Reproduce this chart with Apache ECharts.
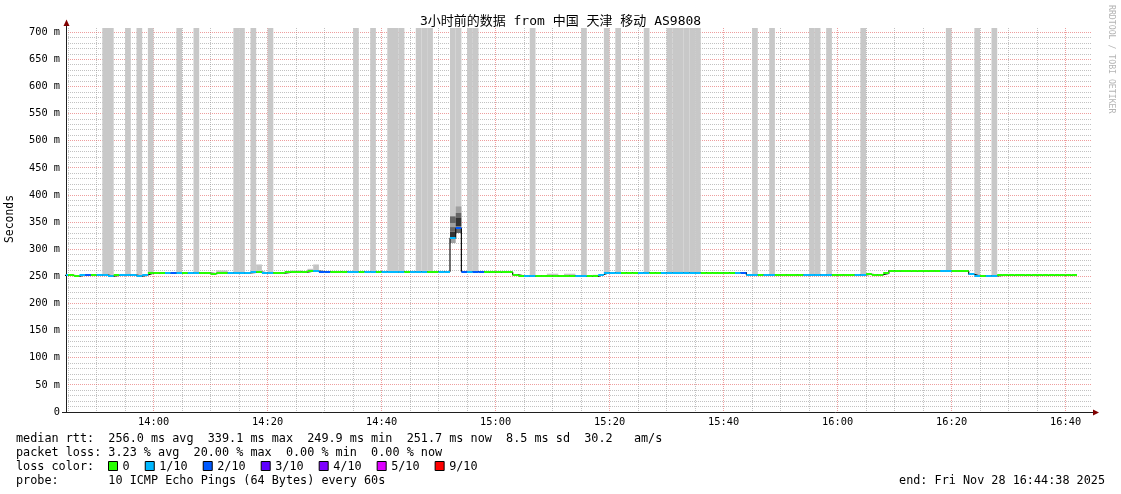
<!DOCTYPE html>
<html><head><meta charset="utf-8">
<script src="https://cdn.jsdelivr.net/npm/echarts@6/dist/echarts.min.js"></script>
<style>html,body{margin:0;padding:0;background:#fff}#c{width:1121px;height:494px}</style>
</head><body><div id="c"></div>
<script>
// ---------- DATA ----------
// minute offsets counted from 13:44 (bin k covers minute k .. k+1)
const baseClock = '13:44';
const viewStart = 0.633;   // 13:44:38
const viewEnd = 180.633;   // 16:44:38
const yMax = 708;
const xTickLabels = ['14:00','14:20','14:40','15:00','15:20','15:40','16:00','16:20','16:40'];
const yTickValues = [0,50,100,150,200,250,300,350,400,450,500,550,600,650,700];

// median RTT (ms) per minute
const medianRtt = [
 252,252,250.5,252.5,252.5,252.5,252.5,252.5,250.5,252,
 252.5,252.5,252.5,250.5,252.5,256,256,256,256,256.5,
 256,256,256.5,256.5,256,256,255,256.5,256.5,256.5,
 256.5,256,256.5,257.5,258,256.5,256.5,255.5,256,257.5,
 259,259,258,259.5,260,259,259,259,259,259,
 259,259,259,259,259,259,259,259,258,259,
 259,259,259,259,258,259,259,259,320.5,339.1,
 259,259,259,259,257.5,257.5,257.5,257.5,257.5,253,
 251,250.5,250.5,251,251,251,251,251,251,251,
 251,249.9,250,250,253.5,257,257,257,257,257,
 257,257,257,257,257,257,257,257,257,257,
 257,257,257,257,257,257,257,257,257,257,
 253,253,253,253,253,253,253,253,253,253,
 253,253,253,253,253,253,253,253,253,253,
 253,254,253,253,255.5,260.5,259.5,260.5,259.5,259.5,
 259.5,259.5,260,260,260,260,260,260,260,254,
 250.5,251,251,251,251.7,251.7,251.7,251.7,251.7,251.7,
 251.7,251.7,251.7,251.7,251.7,251.7,251.7,251.7
];
// lost pings out of 10 per minute
const lossCount = [
 1,0,0,1,2,0,1,1,1,0,
 1,1,1,1,1,0,0,0,1,2,
 1,0,1,1,0,0,0,0,0,1,
 1,1,1,1,0,1,1,0,0,0,
 0,0,0,0,1,2,2,0,0,0,
 1,1,0,1,1,0,1,1,1,1,
 0,1,1,1,0,0,1,1,1,2,
 2,1,2,2,0,0,0,0,0,0,
 0,1,1,0,0,0,0,0,0,0,
 1,1,0,0,1,1,1,1,0,0,
 0,1,1,0,0,1,1,1,1,1,
 1,1,0,0,0,0,0,0,1,2,
 1,1,0,1,1,0,0,0,0,0,
 1,1,1,1,1,0,0,0,0,1,
 1,0,0,0,0,0,0,0,0,0,
 0,0,0,0,1,1,0,0,0,1,
 1,0,1,1,0,0,0,0,0,0,
 0,0,0,0,0,0,0,0
];
// minute ranges where smoke reaches the top of the graph
const offScaleBins = [
 [7,9],[11,12],[13,14],[15,16],[20,21],[23,24],[30,32],[33,34],[36,37],
 [51,52],[54,55],[57,60],[62,65],[68,70],[71,73],[82,83],[91,92],[95,96],
 [97,98],[102,103],[106,112],[121,122],[124,125],[131,133],[134,135],
 [140,141],[155,156],[160,161],[163,164]
];
// smoke: [binStart, binEnd, low ms, high ms, density 1..4]
const smoke = [
 [27,29,256.5,261,1],[31,32,256,258,2],[34,35,258,272,1],[40,42,259,261,1],
 [43,44,259,264,1],[44,45,260,272,1],
 [68,69,311.6,319,2],[68,69,321,332.5,4],[68,69,332.5,341,3],[68,69,341,348.5,2],[68,69,348.5,360.7,3],
 [69,70,330,337.5,3],[69,70,342,357.7,4],[69,70,357.7,367,3],[69,70,367,379,2],
 [85,87,251,255,1],[88,90,251,255,1],[93,94,250,253,1]
];
const lossLabels = ['0','1/10','2/10','3/10','4/10','5/10','9/10'];
const lossLevels = [0,1,2,3,4,5,9];

const titleText = '3小时前的数据 from 中国 天津 移动 AS9808';
const legendRows = [
 'median rtt:  256.0 ms avg  339.1 ms max  249.9 ms min  251.7 ms now  8.5 ms sd  30.2   am/s',
 'packet loss: 3.23 % avg  20.00 % max  0.00 % min  0.00 % now',
 'loss color:',
 'probe:       10 ICMP Echo Pings (64 Bytes) every 60s'
];
const endText = 'end: Fri Nov 28 16:44:38 2025';
const yName = 'Seconds';
const creditText = 'RRDTOOL / TOBI OETIKER';

// ---------- STYLE ----------
const lossColors = {0:'#26ff00',1:'#00b8ff',2:'#0059ff',3:'#5e00ff',4:'#7e00ff',5:'#dd00ff',9:'#ff0000'};
const smokeColors = {1:'#c4c4c4',2:'#a0a0a0',3:'#666666',4:'#333333'};
const MONO = '"DejaVu Sans Mono", "Noto Sans CJK SC", monospace';
const majorGrid = 'rgba(224,79,79,0.55)';
const minorGrid = 'rgba(143,143,143,0.55)';

function colorFor(loss){
  let c = lossColors[0];
  for (const l of lossLevels) if (loss >= l) c = lossColors[l];
  return c;
}
const baseMin = parseInt(baseClock.slice(0,2))*60 + parseInt(baseClock.slice(3));
const clockToOff = s => parseInt(s.slice(0,2))*60 + parseInt(s.slice(3)) - baseMin;
const offToClock = v => { const m = Math.round(v + baseMin); return String(Math.floor(m/60)).padStart(2,'0') + ':' + String(m%60).padStart(2,'0'); };
const xTickValues = xTickLabels.map(clockToOff);

// grid lines: [orientation 0=vertical 1=horizontal, value, major]
const gridLines = [];
for (let m = Math.ceil(viewStart); m < viewEnd; m++) {
  const clock = m + baseMin;
  if (clock % 5 !== 0) continue;
  gridLines.push([0, m, clock % 20 === 0 ? 1 : 0]);
}
for (let v = 10; v < yMax; v += 10) gridLines.push([1, v, v % 50 === 0 ? 1 : 0]);

// bins reaching the top
const offScaleData = [];
offScaleBins.forEach(([a,b]) => { for (let k=a;k<b;k++) offScaleData.push([k, medianRtt[k]]); });

const lineData = medianRtt.map((v,k)=>[k, v]);
lineData.push([medianRtt.length, medianRtt[medianRtt.length-1]]);
const segData = medianRtt.map((v,k)=>[k, v, lossCount[k]]);

const chart = echarts.init(document.getElementById('c'), null, {renderer:'canvas'});

const graphics = [];
graphics.push({type:'text', x:560.5, y:21.5, style:{text:titleText, fontFamily:MONO, fontSize:13, fill:'#000', align:'center', verticalAlign:'middle'}});
graphics.push({type:'text', x:10, y:219, rotation:Math.PI/2, style:{text:yName, fontFamily:MONO, fontSize:11.4, fill:'#000', align:'center', verticalAlign:'middle'}});
graphics.push({type:'text', x:1111, y:5, rotation:-Math.PI/2, style:{text:creditText, fontFamily:MONO, fontSize:8.2, fill:'#b4b4b4', align:'left', verticalAlign:'middle'}});
const rowY = [439,453,467,481];
legendRows.forEach((t,i)=>graphics.push({type:'text', x:16, y:rowY[i], style:{text:t, fontFamily:MONO, fontSize:11.8, fill:'#000', align:'left', verticalAlign:'middle'}}));
graphics.push({type:'text', x:1105, y:481, style:{text:endText, fontFamily:MONO, fontSize:11.8, fill:'#000', align:'right', verticalAlign:'middle'}});
let lx = 108;
lossLabels.forEach((lab,i)=>{
  graphics.push({type:'rect', shape:{x:lx+0.5, y:461.5, width:9, height:9}, style:{fill:lossColors[lossLevels[i]], stroke:'#000', lineWidth:1}});
  graphics.push({type:'text', x:lx+14.5, y:467, style:{text:lab, fontFamily:MONO, fontSize:11.8, fill:'#000', align:'left', verticalAlign:'middle'}});
  lx += 14.5 + (lab.length+2)*7.08 + 1;
});
// axis extensions and arrows
graphics.push({type:'line', shape:{x1:66.5,y1:28,x2:66.5,y2:23}, style:{stroke:'#1f1f1f', lineWidth:1}});
graphics.push({type:'polygon', shape:{points:[[63.5,26],[69.5,26],[66.5,19.5]]}, style:{fill:'#800000'}});
graphics.push({type:'line', shape:{x1:62,y1:412.5,x2:66,y2:412.5}, style:{stroke:'#1f1f1f', lineWidth:1}});
graphics.push({type:'line', shape:{x1:1092,y1:412.5,x2:1094,y2:412.5}, style:{stroke:'#1f1f1f', lineWidth:1}});
graphics.push({type:'polygon', shape:{points:[[1093,409.5],[1093,415.5],[1099,412.5]]}, style:{fill:'#800000'}});

const option = {
  animation:false,
  backgroundColor:'#fff',
  grid:{left:66, top:28, width:1026, height:384, containLabel:false, outerBoundsMode:'none'},
  xAxis:{type:'value', min:viewStart, max:viewEnd,
    axisLine:{show:true, onZero:false, lineStyle:{color:'#1f1f1f', width:1}},
    axisTick:{show:false},
    splitLine:{show:false},
    axisLabel:{customValues:xTickValues, formatter:v=>offToClock(v), margin:5, fontFamily:MONO, fontSize:10.3, color:'#000'}
  },
  yAxis:{type:'value', min:0, max:yMax, interval:50,
    axisLine:{show:true, lineStyle:{color:'#1f1f1f', width:1}},
    axisTick:{show:false},
    splitLine:{show:false},
    axisLabel:{margin:6, fontFamily:MONO, fontSize:10.3, color:'#000', showMaxLabel:false, padding:[2,0,0,0],
      formatter:v=> (yTickValues.indexOf(v) < 0 ? '' : (v===0 ? '0' : v + ' m'))}
  },
  series:[
    {type:'custom', z:0, silent:true, data:gridLines,
     renderItem:(params, api)=>{
       const o = api.value(0), v = api.value(1), major = api.value(2);
       const cs = params.coordSys;
       let shape;
       if (o === 0) {
         const x = Math.floor(api.coord([v, 0])[0]) + 0.5;
         shape = {x1:x, y1:cs.y, x2:x, y2:cs.y + cs.height};
       } else {
         const y = Math.floor(api.coord([viewStart, v])[1]) + 0.5;
         shape = {x1:cs.x, y1:y, x2:cs.x + cs.width, y2:y};
       }
       return {type:'line', shape, style:{stroke: major ? majorGrid : minorGrid, lineWidth:1, lineDash:[1,1]}};
     }},
    {type:'custom', z:1, silent:true, data:offScaleData,
     renderItem:(params, api)=>{
       const k = api.value(0), v = api.value(1);
       const p1 = api.coord([Math.max(k, viewStart), yMax]);
       const p2 = api.coord([Math.min(k+1, viewEnd), v]);
       return {type:'rect', shape:{x:p1[0], y:p1[1], width:p2[0]-p1[0], height:p2[1]-p1[1]}, style:{fill:'#c8c8c8'}};
     }},
    {type:'custom', z:2, silent:true, data:smoke,
     renderItem:(params, api)=>{
       const a = api.value(0), b = api.value(1), lo = api.value(2), hi = api.value(3), d = api.value(4);
       const p1 = api.coord([Math.max(a, viewStart), hi]);
       const p2 = api.coord([Math.min(b, viewEnd), lo]);
       return {type:'rect', shape:{x:p1[0], y:p1[1], width:p2[0]-p1[0], height:p2[1]-p1[1]}, style:{fill:smokeColors[d]}};
     }},
    {type:'line', z:3, silent:true, step:'end', symbol:'none', data:lineData, clip:true,
     lineStyle:{color:'#111', width:1.2}},
    {type:'custom', z:4, silent:true, data:segData,
     renderItem:(params, api)=>{
       const k = api.value(0), v = api.value(1), loss = api.value(2);
       const p1 = api.coord([Math.max(k, viewStart), v]);
       const p2 = api.coord([Math.min(k+1, viewEnd), v]);
       return {type:'rect', shape:{x:p1[0], y:Math.round(p1[1])-1, width:p2[0]-p1[0], height:2}, style:{fill:colorFor(loss)}};
     }}
  ],
  graphic:graphics
};
chart.setOption(option);
</script>
</body></html>
